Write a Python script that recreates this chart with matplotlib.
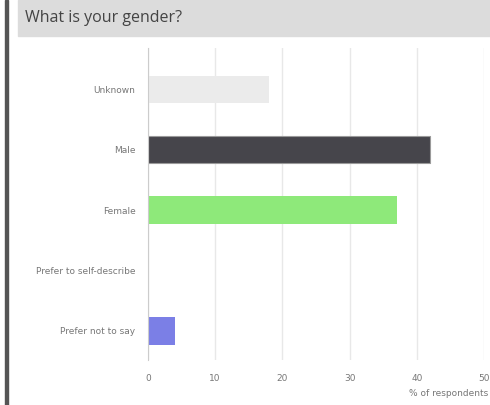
import matplotlib.pyplot as plt
from matplotlib.patches import Rectangle

categories = ["Unknown", "Male", "Female", "Prefer to self-describe", "Prefer not to say"]
values = [18, 42, 37, 0, 4]
colors = ["#ebebeb", "#46454b", "#8ee97a", "#ffffff", "#7b7fe6"]
xticks = [0, 10, 20, 30, 40, 50]

W, H = 490, 405
fig = plt.figure(figsize=(W / 100, H / 100), dpi=100)
fig.patch.set_facecolor("white")

# left border and title bar
fig.patches.append(Rectangle((5 / W, 0), 2.5 / W, 1, transform=fig.transFigure,
                             color="#555555", zorder=0))
fig.patches.append(Rectangle((18 / W, 1 - 36 / H), 1, 36 / H, transform=fig.transFigure,
                             color="#dcdcdc", zorder=0))
fig.text(25 / W, 1 - 18 / H, "What is your gender?", fontsize=11.5, color="#444444",
         va="center", ha="left", family="Open Sans")

ax = fig.add_axes([148 / W, 45 / H, 336 / W, 312 / H])
ypos = list(range(len(categories)))
bars = ax.barh(ypos, values, height=0.45, color=colors, zorder=3)
bars[1].set_edgecolor("#9a9a9a")
bars[1].set_linewidth(0.8)

ax.set_xlim(0, 50)
ax.set_ylim(4.48, -0.68)
ax.set_xticks(xticks)
ax.set_yticks(ypos)
ax.set_yticklabels(categories)
ax.tick_params(axis="both", length=0, labelsize=6.5, labelcolor="#777777")
ax.tick_params(axis="y", pad=9)
ax.tick_params(axis="x", pad=10)
ax.grid(axis="x", color="#e8e8e8", linewidth=1, zorder=0)
for s in ["top", "right", "bottom"]:
    ax.spines[s].set_visible(False)
ax.spines["left"].set_color("#cccccc")
ax.spines["left"].set_zorder(4)

fig.text(488 / W, 1 - 393 / H, "% of respondents", fontsize=6.5, color="#777777",
         ha="right", va="center")

fig.savefig("out.png", dpi=100)
